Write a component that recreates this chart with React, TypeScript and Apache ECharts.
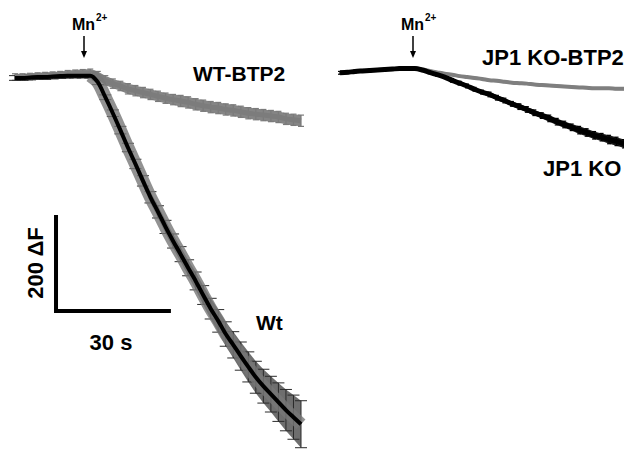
import React, { useEffect, useRef } from "react";
import * as echarts from "echarts";

// time (s) for every sample, both panels
const TIME = [0, 2, 4, 6, 8, 10, 12, 14, 16, 18, 20, 22, 24, 26, 28, 30, 32, 34, 36, 38, 40, 42, 44, 46, 48, 50, 52, 54, 56, 58, 60, 62, 64, 66, 68, 70, 72, 74, 76];
const MN_TIME = 20; // Mn2+ addition (s)

// Left panel: Wt and WT-BTP2 (ΔF)
const WT_MEAN = [-5, -5, -4, -3, -3, -2, -1, 0, 0, 0, 0, -14, -46, -80, -116, -153, -188, -224, -259, -290, -322, -352, -380, -409, -437, -467, -496, -522, -550, -573, -597, -620, -642, -661, -678, -695, -712, -727, -742];
const WT_SEM = [5, 5, 5, 5, 5, 5, 5, 5, 5, 5, 5, 5, 5, 7, 8, 9, 10, 11, 12, 13, 14, 15, 16, 17, 19, 20, 22, 24, 26, 28, 30, 32, 34, 36, 38, 41, 44, 47, 50];
const WTBTP_MEAN = [-3, -3, -2, -1, 0, 1, 2, 3, 4, 5, 5, 0, -10, -17, -22, -28, -32, -36, -40, -44, -48, -51, -54, -57, -61, -64, -67, -69, -72, -74, -77, -80, -82, -84, -86, -88, -92, -94, -96];
const WTBTP_SEM = [7, 7, 7, 7, 7, 7, 7, 8, 8, 8, 9, 9, 10, 10, 10, 11, 11, 11, 11, 11, 11, 11, 12, 12, 12, 12, 12, 12, 12, 12, 12, 12, 12, 12, 12, 12, 12, 12, 12];

// Right panel: JP1 KO and JP1 KO-BTP2 (ΔF)
const KO_MEAN = [6, 7, 9, 10, 11, 12, 13, 14, 15, 15, 15, 12, 7, 2, -3, -10, -16, -22, -29, -35, -40, -47, -53, -60, -66, -72, -79, -85, -91, -98, -104, -110, -116, -121, -127, -131, -136, -140, -145];
const KO_SEM = [3, 3, 3, 3, 3, 3, 3, 3, 3, 3, 3, 3, 3, 3, 3, 4, 4, 4, 4, 4, 5, 5, 5, 5, 6, 6, 6, 6, 7, 7, 7, 7, 8, 8, 8, 8, 9, 9, 9];
const KOBTP_MEAN = [6, 7, 9, 10, 11, 12, 13, 14, 15, 15, 15, 13, 10, 7, 4, 2, -1, -3, -5, -7, -10, -11, -13, -15, -16, -17, -19, -20, -21, -22, -23, -24, -25, -26, -27, -27, -27, -28, -28];
const KOBTP_SEM = [3, 3, 3, 3, 3, 3, 3, 3, 3, 3, 3, 3, 3, 3, 3, 3, 3, 3, 3, 3, 3, 3, 3, 3, 3, 3, 3, 3, 3, 3, 3, 3, 3, 3, 3, 3, 3, 3, 3];

// scale bar values
const SCALE_DF = 200;
const SCALE_S = 30;

const FONT = "'Liberation Sans', Arial, Helvetica, sans-serif";

function band(idx: number, mean: number[], sem: number[], color: string, opacity: number) {
  return {
    type: "custom",
    xAxisIndex: idx,
    yAxisIndex: idx,
    data: [0],
    silent: true,
    renderItem: (_p: any, api: any) => {
      const up = TIME.map((t, i) => api.coord([t, mean[i] + sem[i]]));
      const dn = TIME.map((t, i) => api.coord([t, mean[i] - sem[i]])).reverse();
      return {
        type: "polygon",
        shape: { points: up.concat(dn) },
        style: { fill: color, opacity },
      };
    },
  };
}

function bars(idx: number, mean: number[], sem: number[], color: string, cap: number, lw = 1.2) {
  return {
    type: "custom",
    xAxisIndex: idx,
    yAxisIndex: idx,
    silent: true,
    data: TIME.map((t, i) => [t, mean[i], sem[i]]),
    renderItem: (_p: any, api: any) => {
      const t = api.value(0);
      const m = api.value(1);
      const s = api.value(2);
      const a = api.coord([t, m + s]);
      const b = api.coord([t, m - s]);
      const st = { stroke: color, lineWidth: lw };
      return {
        type: "group",
        children: [
          { type: "line", shape: { x1: a[0], y1: a[1], x2: b[0], y2: b[1] }, style: st },
          { type: "line", shape: { x1: a[0] - cap, y1: a[1], x2: a[0] + cap, y2: a[1] }, style: st },
          { type: "line", shape: { x1: b[0] - cap, y1: b[1], x2: b[0] + cap, y2: b[1] }, style: st },
        ],
      };
    },
  };
}

function meanLine(idx: number, mean: number[], color: string, width: number, opacity = 1, fromT = -1) {
  return {
    type: "line",
    xAxisIndex: idx,
    yAxisIndex: idx,
    data: TIME.map((t, i) => (t >= fromT ? [t, mean[i]] : [t, null])),
    symbol: "none",
    smooth: 0.3,
    silent: true,
    connectNulls: false,
    lineStyle: { color, width, opacity, cap: "butt", join: "round" },
  };
}

function label(text: string, x: number, y: number, size = 21, align = "left") {
  return {
    type: "text",
    x,
    y,
    style: {
      text,
      fill: "#000",
      fontFamily: FONT,
      fontWeight: "bold",
      fontSize: size,
      align,
      verticalAlign: "middle",
    },
  };
}

function mnMarker(x: number) {
  return [
    label("Mn", x - 12, 24, 16),
    label("2+", x + 12, 17, 10),
    { type: "line", shape: { x1: x, y1: 36, x2: x, y2: 54 }, style: { stroke: "#000", lineWidth: 1.5 } },
    { type: "polygon", shape: { points: [[x - 3, 51], [x + 3, 51], [x, 58]] }, style: { fill: "#000" } },
  ];
}

export default function App() {
  const ref = useRef<HTMLDivElement>(null);
  useEffect(() => {
    if (!ref.current) return;
    const chart = echarts.init(ref.current, null, { renderer: "svg" });
    const sT0 = 10.9;
    const sF0 = -501;
    const axisX = { type: "value", min: 0, max: 76, show: false };
    const axisY = { type: "value", min: -799, max: 161, show: false };
    chart.setOption({
      animation: false,
      backgroundColor: "#fff",
      grid: [
        { left: 15, top: 0, width: 286, height: 451 },
        { left: 340, top: 0, width: 286, height: 451 },
      ],
      xAxis: [{ ...axisX, gridIndex: 0 }, { ...axisX, gridIndex: 1 }],
      yAxis: [{ ...axisY, gridIndex: 0 }, { ...axisY, gridIndex: 1 }],
      series: [
        band(0, WTBTP_MEAN, WTBTP_SEM, "#858585", 1),
        bars(0, WTBTP_MEAN, WTBTP_SEM, "#7a7a7a", 3),
        meanLine(0, WTBTP_MEAN, "#7c7c7c", 5),
        band(0, WT_MEAN, WT_SEM, "#5e5e5e", 0.9),
        meanLine(0, WT_MEAN, "#777", 13, 0.8, MN_TIME),
        bars(0, WT_MEAN, WT_SEM, "#2a2a2a", 6, 1),
        meanLine(0, WT_MEAN, "#000", 4),
        band(1, KOBTP_MEAN, KOBTP_SEM, "#7f7f7f", 1),
        meanLine(1, KOBTP_MEAN, "#7f7f7f", 4),
        band(1, KO_MEAN, KO_SEM, "#1a1a1a", 1),
        bars(1, KO_MEAN, KO_SEM, "#000", 2),
        meanLine(1, KO_MEAN, "#000", 5),
        {
          type: "line",
          xAxisIndex: 0,
          yAxisIndex: 0,
          data: [[sT0, sF0 + SCALE_DF], [sT0, sF0], [sT0 + SCALE_S, sF0]],
          symbol: "none",
          silent: true,
          lineStyle: { color: "#000", width: 4, cap: "square", join: "miter" },
        },
      ],
      graphic: [
        ...mnMarker(84),
        ...mnMarker(413),
        label("WT-BTP2", 193, 73),
        label("JP1 KO-BTP2", 482, 57, 22),
        label("JP1 KO", 543, 168, 22),
        label("Wt", 256, 322),
        label("30 s", 111, 342, 22, "center"),
        {
          type: "text",
          x: 35,
          y: 263,
          rotation: Math.PI / 2,
          style: {
            text: "200 ΔF",
            fill: "#000",
            fontFamily: FONT,
            fontWeight: "bold",
            fontSize: 22,
            align: "center",
            verticalAlign: "middle",
          },
        },
      ],
    });
    return () => chart.dispose();
  }, []);
  return (
    <div
      ref={ref}
      style={{ position: "absolute", left: 0, top: 0, width: 624, height: 451, background: "#fff" }}
    />
  );
}
